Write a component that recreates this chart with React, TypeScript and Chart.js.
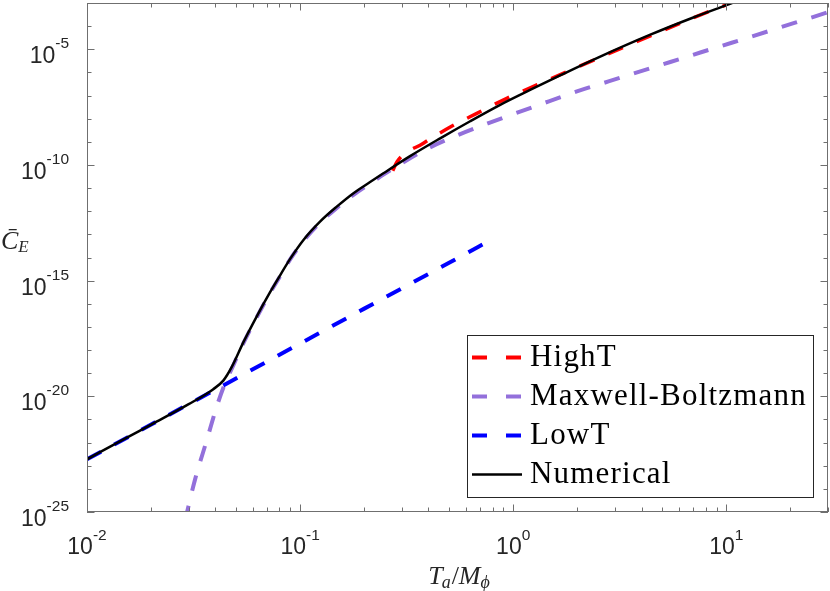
import React, { useEffect, useRef } from 'react';
import { Chart, registerables } from 'chart.js';
import type { Plugin } from 'chart.js';

Chart.register(...registerables);

// values (log-log)
const highTX = [0.272, 0.285, 0.379, 0.509, 0.675, 0.933, 1.29, 2.5, 4.4, 7, 10];
const highTY = [5.62e-11, 1.38e-10, 8.71e-10, 4.47e-9, 1.7e-8, 7.59e-8, 2.88e-7, 4.07e-6, 3.8e-5, 2.29e-4, 8.3e-4];

const mbX = [0.0288, 0.0321, 0.0365, 0.0406, 0.0445, 0.0478, 0.0542, 0.0627, 0.0723, 0.079, 0.0898, 0.1037, 0.124, 0.1486, 0.178, 0.213, 0.246, 0.311, 0.407, 0.553, 0.766, 1.06, 1.47, 1.99, 2.8, 3.88, 5.46, 7.55, 10.6, 30];
const mbY = [3.98e-26, 2.45e-24, 1.29e-22, 3.55e-21, 3.8e-20, 1.58e-19, 2.0e-18, 2.69e-17, 2.95e-16, 1.15e-15, 8.32e-15, 5.13e-14, 3.16e-13, 1.38e-12, 5.13e-12, 1.58e-11, 3.8e-11, 1.45e-10, 5.75e-10, 2.0e-9, 6.46e-9, 1.91e-8, 5.62e-8, 1.51e-7, 4.07e-7, 1.05e-6, 2.82e-6, 7.24e-6, 1.91e-5, 3.98e-4];

const lowTX = [0.01, 0.02, 0.05, 0.1, 0.2, 0.5, 0.8];
const lowTY = [1.9e-23, 6.03e-22, 5.89e-20, 1.91e-18, 6.17e-17, 5.89e-15, 6.31e-14];

const numX = [0.01, 0.015, 0.02, 0.03, 0.039, 0.0437, 0.0478, 0.0542, 0.0627, 0.0723, 0.079, 0.0898, 0.1037, 0.124, 0.1486, 0.178, 0.213, 0.246, 0.328, 0.454, 0.628, 0.869, 1.2, 1.66, 2.5, 4.4, 7, 11];
const numY = [1.9e-23, 1.45e-22, 6.03e-22, 4.57e-21, 1.99e-20, 4.9e-20, 1.86e-19, 2.19e-18, 2.95e-17, 3.16e-16, 1.26e-15, 8.71e-15, 5.75e-14, 3.55e-13, 1.58e-12, 6.03e-12, 1.82e-11, 4.37e-11, 2.4e-10, 1.41e-9, 7.76e-9, 3.98e-8, 1.74e-7, 7.41e-7, 4.37e-6, 4.27e-5, 2.37e-4, 1.11e-3];

const legendLabels = ['HighT', 'Maxwell-Boltzmann', 'LowT', 'Numerical'];

const xTickValues = [0.01, 0.1, 1, 10];
const xTickExponents = ['-2', '-1', '0', '1'];
const yTickValues = [1e-25, 1e-20, 1e-15, 1e-10, 1e-5];
const yTickExponents = ['-25', '-20', '-15', '-10', '-5'];

const axisColor = '#6f6f6f';
const textColor = '#262626';
const tickFont = '"Liberation Sans", Arial, sans-serif';
const mathFont = '"Liberation Serif", "Times New Roman", serif';

const pairs = (xs: number[], ys: number[]) => xs.map((x, i) => ({ x, y: ys[i] }));

function xMinorTicks() {
  const out: number[] = [];
  for (const d of [0.01, 0.1, 1, 10]) {
    for (let m = 2; m <= 9; m++) if (m * d <= 30.01) out.push(m * d);
  }
  return out;
}

function yMinorTicks() {
  const out: number[] = [];
  for (let e = -24; e <= -4; e++) if (e % 5 !== 0) out.push(Math.pow(10, e));
  return out;
}

type Piece = { t: string; size: number; italic?: boolean; dy?: number; gap?: number };

function drawMath(ctx: CanvasRenderingContext2D, pieces: Piece[], x: number, y: number, center: boolean) {
  const font = (p: Piece) => `${p.italic ? 'italic ' : ''}${p.size}px ${mathFont}`;
  let total = 0;
  const widths = pieces.map((p) => {
    ctx.font = font(p);
    const w = ctx.measureText(p.t).width + (p.gap || 0);
    total += w;
    return w;
  });
  let cx = center ? x - total / 2 : x;
  pieces.forEach((p, i) => {
    ctx.font = font(p);
    ctx.fillText(p.t, cx, y + (p.dy || 0));
    cx += widths[i];
  });
}

function drawPow(ctx: CanvasRenderingContext2D, exp: string, x: number, baseY: number, expY: number, align: 'center' | 'right') {
  ctx.font = `23px ${tickFont}`;
  const wb = ctx.measureText('10').width;
  ctx.font = `15.5px ${tickFont}`;
  const we = ctx.measureText(exp).width;
  const start = align === 'center' ? x - (wb + we) / 2 : x - (wb + we);
  ctx.font = `23px ${tickFont}`;
  ctx.fillText('10', start, baseY);
  ctx.font = `15.5px ${tickFont}`;
  ctx.fillText(exp, start + wb, expY);
}

const matlabAxes: Plugin<'line'> = {
  id: 'matlabAxes',
  afterDraw(chart) {
    const { ctx, chartArea: a } = chart;
    const xs = chart.scales.x;
    const ys = chart.scales.y;
    ctx.save();

    // box and inward ticks
    ctx.strokeStyle = axisColor;
    ctx.lineWidth = 1;
    ctx.strokeRect(a.left + 0.5, a.top + 0.5, a.right - a.left - 1, a.bottom - a.top - 1);
    ctx.beginPath();
    const xt = (v: number, len: number) => {
      const px = Math.round(xs.getPixelForValue(v)) + 0.5;
      ctx.moveTo(px, a.bottom);
      ctx.lineTo(px, a.bottom - len);
      ctx.moveTo(px, a.top);
      ctx.lineTo(px, a.top + len);
    };
    const yt = (v: number, len: number) => {
      const py = Math.round(ys.getPixelForValue(v)) + 0.5;
      ctx.moveTo(a.left, py);
      ctx.lineTo(a.left + len, py);
      ctx.moveTo(a.right, py);
      ctx.lineTo(a.right - len, py);
    };
    xTickValues.forEach((v) => xt(v, 7.5));
    xMinorTicks().forEach((v) => xt(v, 4.5));
    yTickValues.forEach((v) => yt(v, 7.5));
    yMinorTicks().forEach((v) => yt(v, 4.5));
    ctx.stroke();

    // tick labels
    ctx.fillStyle = textColor;
    ctx.textAlign = 'left';
    ctx.textBaseline = 'alphabetic';
    xTickValues.forEach((v, i) => {
      const px = xs.getPixelForValue(v);
      drawPow(ctx, xTickExponents[i], px, 553.5, 540, 'center');
    });
    yTickValues.forEach((v, i) => {
      const py = ys.getPixelForValue(v);
      drawPow(ctx, yTickExponents[i], 69, py + 14, py - 1, 'right');
    });

    // axis titles
    drawMath(
      ctx,
      [
        { t: 'T', size: 26, italic: true, gap: -1 },
        { t: 'a', size: 18, italic: true, dy: 4, gap: 1 },
        { t: '/', size: 26 },
        { t: 'M', size: 26, italic: true },
        { t: '\u03d5', size: 18, italic: true, dy: 4 },
      ],
      459,
      584,
      true
    );
    drawMath(
      ctx,
      [
        { t: 'C\u0304', size: 26, italic: true },
        { t: 'E', size: 17, italic: true, dy: 3 },
      ],
      1,
      248.5,
      false
    );

    // legend
    const lx = 467.5;
    const ly = 335.5;
    ctx.fillStyle = '#ffffff';
    ctx.fillRect(lx, ly, 346, 162);
    ctx.strokeStyle = textColor;
    ctx.lineWidth = 1;
    ctx.strokeRect(lx, ly, 346, 162);
    const rows = [357.5, 396.5, 435.5, 474.5];
    chart.data.datasets.forEach((ds: any, i: number) => {
      ctx.beginPath();
      ctx.strokeStyle = ds.borderColor;
      ctx.lineWidth = ds.borderDash ? 4 : 2.5;
      ctx.setLineDash(ds.borderDash ? [15, 19] : []);
      ctx.moveTo(472, rows[i]);
      ctx.lineTo(522, rows[i]);
      ctx.stroke();
      ctx.setLineDash([]);
      ctx.fillStyle = '#000000';
      ctx.font = `31px ${mathFont}`;
      (ctx as any).letterSpacing = '1.2px';
      ctx.fillText(legendLabels[i], 530, rows[i] + 8);
      (ctx as any).letterSpacing = '0px';
    });
    ctx.restore();
  },
};

const App: React.FC = () => {
  const chartRef = useRef<HTMLCanvasElement>(null);

  useEffect(() => {
    if (!chartRef.current) return;

    const line = (label: string, xs: number[], ys: number[], color: string, width: number, dashed: boolean, order: number) => ({
      label,
      data: pairs(xs, ys),
      borderColor: color,
      borderWidth: width,
      borderDash: dashed ? [16, 15] : undefined,
      pointRadius: 0,
      fill: false,
      cubicInterpolationMode: 'monotone' as const,
      clip: 0,
      order,
    });

    const chart = new Chart(chartRef.current, {
      type: 'line',
      data: {
        datasets: [
          line(legendLabels[0], highTX, highTY, '#ff0000', 3.5, true, 3),
          line(legendLabels[1], mbX, mbY, '#9370db', 4, true, 2),
          line(legendLabels[2], lowTX, lowTY, '#0000ff', 4, true, 1),
          line(legendLabels[3], numX, numY, '#000000', 2.5, false, 0),
        ],
      },
      options: {
        animation: false,
        responsive: true,
        maintainAspectRatio: false,
        layout: { padding: { left: 87, top: 3, right: 2, bottom: 79 } },
        scales: {
          x: { type: 'logarithmic', min: 0.01, max: 30, display: false },
          y: { type: 'logarithmic', min: 1e-25, max: 1e-3, display: false },
        },
        plugins: {
          legend: { display: false },
          tooltip: { enabled: false },
        },
      },
      plugins: [matlabAxes],
    });

    return () => chart.destroy();
  }, []);

  return (
    <div style={{ position: 'absolute', left: 0, top: 0, width: 830, height: 591, background: '#ffffff' }}>
      <canvas ref={chartRef}></canvas>
    </div>
  );
};

export default App;
